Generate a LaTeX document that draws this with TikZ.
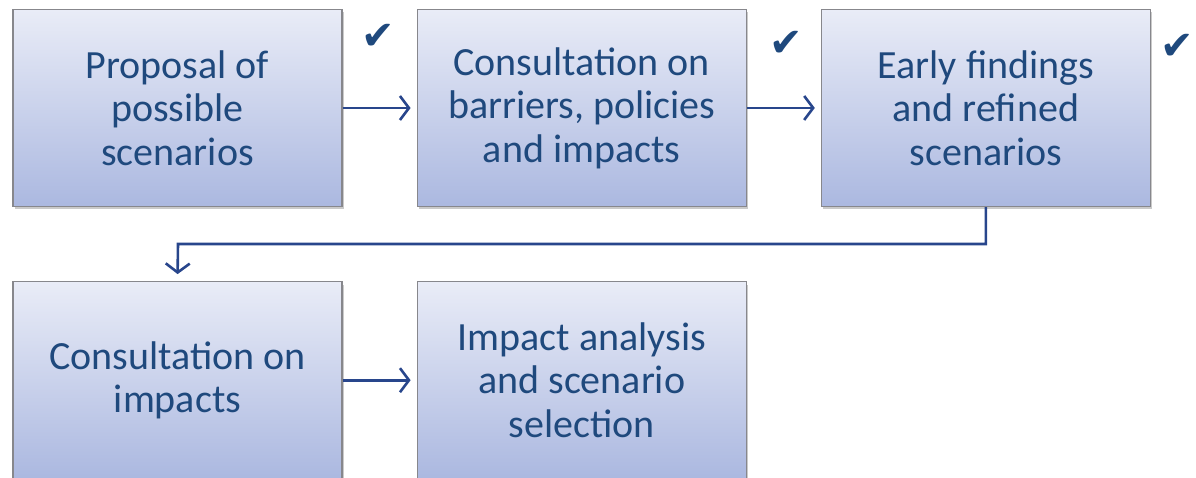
\documentclass[tikz,border=0pt]{standalone}
\usepackage{fontspec}
\setmainfont{Carlito}
\newfontfamily\symfont{DejaVu Sans}
\usetikzlibrary{arrows.meta, positioning, shadows}
\definecolor{ink}{RGB}{31, 73, 125}
\definecolor{flow}{RGB}{40, 70, 140}
\definecolor{lite}{RGB}{233, 236, 247}
\definecolor{deep}{RGB}{171, 184, 224}
\definecolor{rim}{RGB}{135, 135, 140}

\tikzset{
    stage/.style = {draw = rim, line width = 1.2pt, top color = lite, bottom color = deep,
        minimum width = 329pt, minimum height = 197pt, inner sep = 0pt,
        align = center, text = ink, font = \fontsize{40}{43.5}\selectfont,
        drop shadow = {shadow xshift = 2pt, shadow yshift = -3pt, opacity = .35, fill = black!60}},
    flowline/.style = {flow, line width = 2.6pt, -{Straight Barb[length = 9pt, width = 24pt, line width = 2.6pt]}},
    tick/.style = {text = ink, font = \symfont\fontsize{40}{40}\selectfont, inner sep = 0pt}
}

\begin{document}
\begin{tikzpicture}[x = 1pt, y = -1pt]
    \useasboundingbox (0,0) rectangle (1196,478);

    \node[stage] (proposal) at (177.5,108) {Proposal of\\possible\\scenarios};
    \node[stage, right = 74pt of proposal] (barriers) {Consultation on\\barriers, policies\\and impacts};
    \node[stage, right = 74pt of barriers] (findings) {Early findings\\and refined\\scenarios};
    \node[stage, below = 74pt of proposal] (impacts) {Consultation on\\impacts};
    \node[stage, right = 74pt of impacts] (selection) {Impact analysis\\and scenario\\selection};

    \node[tick] (tick1) at (378,37) {✔};
    \node[tick] (tick2) at (786,44) {✔};
    \node[tick] (tick3) at (1177,47) {✔};

    \draw[flowline, shorten > = 6pt] (proposal) -- (barriers);
    \draw[flowline, shorten > = 6pt] (barriers) -- (findings);
    \draw[flowline, shorten > = 6pt] (impacts) -- (selection);
    \draw[flowline, shorten > = 7pt] (findings.south) |- (178,244) -- (impacts.north);
\end{tikzpicture}
\end{document}
